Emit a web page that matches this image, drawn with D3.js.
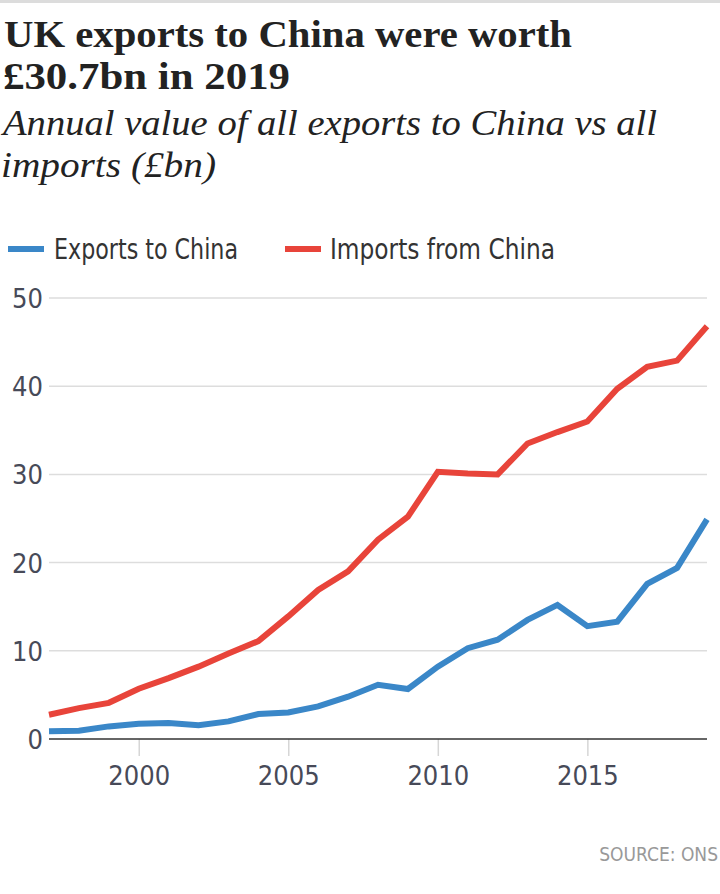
<!DOCTYPE html>
<html><head><meta charset="utf-8">
<script src="https://cdn.jsdelivr.net/npm/d3@7"></script>
<style>
html,body{margin:0;padding:0;background:#fff;}
svg{display:block;}
.narrow{font-family:"Liberation Sans Narrow","DejaVu Sans Condensed","Roboto",sans-serif;}
</style></head>
<body>
<svg id="chart" width="720" height="894"></svg>
<script>
const years = [1997,1998,1999,2000,2001,2002,2003,2004,2005,2006,2007,2008,2009,2010,2011,2012,2013,2014,2015,2016,2017,2018,2019];
const exportsToChina = [0.87,0.94,1.43,1.73,1.8,1.55,2.0,2.83,3.0,3.7,4.8,6.15,5.67,8.2,10.3,11.26,13.5,15.2,12.8,13.3,17.6,19.4,24.9];
const importsFromChina = [2.75,3.5,4.1,5.7,6.9,8.2,9.7,11.1,13.9,16.9,19.0,22.6,25.2,30.3,30.1,30.0,33.5,34.8,36.0,39.7,42.2,42.9,46.8];
const yTicks = [0,10,20,30,40,50];
const xTicks = [2000,2005,2010,2015];
const seriesNames = ["Exports to China","Imports from China"];
const seriesColors = ["#3a87c8","#e8443a"];

const svg = d3.select("#chart");
svg.append("rect").attr("x",0).attr("y",0).attr("width",720).attr("height",3).attr("fill","#dcdcdc");

function fitText(sel, len){ sel.attr("textLength",len).attr("lengthAdjust","spacingAndGlyphs"); return sel; }

const serif = '"Liberation Serif","DejaVu Serif",serif';
fitText(svg.append("text").attr("x",4).attr("y",47).attr("font-family",serif).attr("font-weight","bold")
  .attr("font-size",37).attr("fill","#222").text("UK exports to China were worth"),568);
fitText(svg.append("text").attr("x",3).attr("y",89).attr("font-family",serif).attr("font-weight","bold")
  .attr("font-size",37).attr("fill","#222").text("£30.7bn in 2019"),287);
fitText(svg.append("text").attr("x",3).attr("y",135).attr("font-family",serif).attr("font-style","italic")
  .attr("font-size",36).attr("fill","#222").text("Annual value of all exports to China vs all"),654);
fitText(svg.append("text").attr("x",1).attr("y",177).attr("font-family",serif).attr("font-style","italic")
  .attr("font-size",36).attr("fill","#222").text("imports (£bn)"),215);

// legend
const legX = [8,285], legTextX = [54,330], legW = [184,225];
seriesNames.forEach((n,i)=>{
  svg.append("rect").attr("x",legX[i]).attr("y",246).attr("width",36).attr("height",6).attr("fill",seriesColors[i]);
  fitText(svg.append("text").attr("class","narrow").attr("x",legTextX[i]).attr("y",259)
    .attr("font-size",28).attr("fill","#333").text(n),legW[i]);
});

const x = d3.scaleLinear().domain([1997,2019]).range([49,707]);
const y = d3.scaleLinear().domain([0,50]).range([739,298]);

// gridlines
const grid = svg.append("g");
grid.selectAll("line").data(yTicks.filter(d=>d>0)).join("line")
  .attr("x1",49).attr("x2",707).attr("y1",d=>y(d)).attr("y2",d=>y(d))
  .attr("stroke","#dddddd").attr("stroke-width",1.5);

// y axis labels
const yAxis = d3.axisLeft(y).tickValues(yTicks).tickSize(0).tickPadding(6).tickFormat(d3.format("d"));
const gy = svg.append("g").attr("transform","translate(49,0)").call(yAxis);
gy.select(".domain").remove();
gy.selectAll("text").attr("class","narrow").attr("font-size",27).attr("fill","#474a58").attr("dy","0.35em");

// x axis
const xAxis = d3.axisBottom(x).tickValues(xTicks).tickSize(17).tickPadding(10).tickFormat(d3.format("d"));
const gx = svg.append("g").attr("transform","translate(0,739)").call(xAxis);
gx.select(".domain").remove();
gx.selectAll(".tick line").attr("stroke","#d6d6d6").attr("stroke-width",1.5);
gx.selectAll("text").attr("class","narrow").attr("font-size",27).attr("fill","#474a58");

// lines
const line = d3.line().x((d,i)=>x(years[i])).y(d=>y(d));
[exportsToChina, importsFromChina].forEach((s,i)=>{
  svg.append("path").datum(s).attr("d",line).attr("fill","none")
    .attr("stroke",seriesColors[i]).attr("stroke-width",6).attr("stroke-linejoin","miter");
});

// baseline
svg.append("line").attr("x1",49).attr("x2",707).attr("y1",739).attr("y2",739).attr("stroke","#333").attr("stroke-width",1.5);

// source
svg.append("text").attr("class","narrow").attr("x",718).attr("y",861).attr("text-anchor","end")
  .attr("font-size",19).attr("fill","#999").text("SOURCE: ONS");
</script>
</body></html>
